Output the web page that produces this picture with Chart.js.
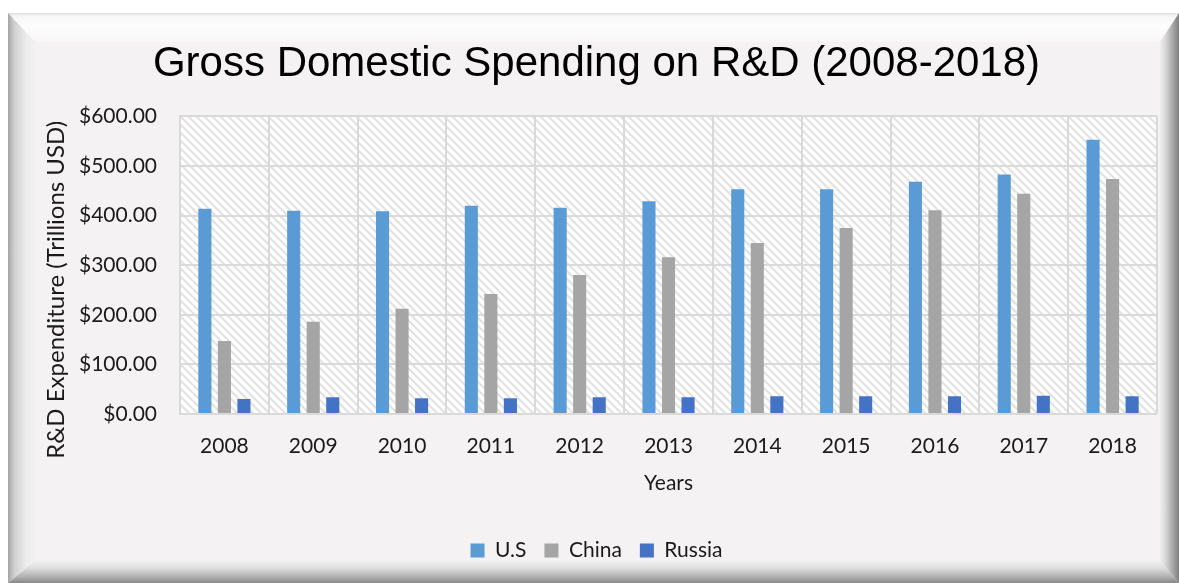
<!DOCTYPE html>
<html lang="en">
<head>
<meta charset="UTF-8">
<title>Gross Domestic Spending on R&amp;D</title>
<style>
    body { margin: 0; background: #fff; width: 1179px; height: 583px; overflow: hidden; position: relative; }
    #frame { position: absolute; left: 8px; top: 13px; width: 1171px; height: 570px; background: #f4f2f3; }
    .bevel { position: absolute; left: 0; top: 0; width: 100%; height: 100%; background-repeat: no-repeat; }
    .b-top {
        background-image: linear-gradient(to bottom, #dcdcdc 0px, #f6f6f6 3px, #fdfdfd 12px, #f7f7f7 29px);
        background-size: 100% 29px;
        clip-path: polygon(0 0, 100% 0, calc(100% - 19px) 29px, 27px 29px);
    }
    .b-left {
        background-image: linear-gradient(to right, #a4a4a4 0px, #cfcfcf 6px, #ececec 18px, #f2f2f2 27px);
        background-size: 27px 100%;
        clip-path: polygon(0 0, 27px 29px, 27px calc(100% - 22px), 0 100%);
    }
    .b-right {
        background-image: linear-gradient(to left, #7e7e7e 0px, #a6a6a6 6px, #dadada 14px, #efefef 19px);
        background-size: 19px 100%; background-position: right top;
        clip-path: polygon(100% 0, 100% 100%, calc(100% - 19px) calc(100% - 22px), calc(100% - 19px) 29px);
    }
    .b-bottom {
        background-image: linear-gradient(to top, #888888 0px, #b0b0b0 6px, #dedede 15px, #efefef 22px);
        background-size: 100% 22px; background-position: left bottom;
        clip-path: polygon(0 100%, 100% 100%, calc(100% - 19px) calc(100% - 22px), 27px calc(100% - 22px));
    }
    canvas { position: absolute; left: 0; top: 0; }
</style>
<script src="https://cdn.jsdelivr.net/npm/chart.js"></script>
</head>
<body>
<div id="frame">
    <div class="bevel b-top"></div>
    <div class="bevel b-left"></div>
    <div class="bevel b-right"></div>
    <div class="bevel b-bottom"></div>
</div>
<canvas id="rdChart" width="1179" height="583"></canvas>

<script>
const years = ["2008", "2009", "2010", "2011", "2012", "2013", "2014", "2015", "2016", "2017", "2018"];
const usSpend     = [414, 410, 409, 420, 416, 429, 453, 453, 468, 483, 553];
const chinaSpend  = [147, 186, 212, 242, 280, 316, 345, 375, 411, 444, 474];
const russiaSpend = [30, 34, 32, 32, 34, 34, 36, 36, 36, 37, 36];

const labelFont = "Lato, 'Open Sans', sans-serif";
const textColor = "#1a1a1a";

function makeHatch() {
    const c = document.createElement("canvas");
    c.width = 8; c.height = 8;
    const g = c.getContext("2d");
    g.fillStyle = "#ffffff";
    g.fillRect(0, 0, 8, 8);
    g.strokeStyle = "#e2e2e2";
    g.lineWidth = 2.2;
    g.beginPath();
    g.moveTo(-2, -2); g.lineTo(10, 10);
    g.moveTo(-6, 2); g.lineTo(2, 10);
    g.moveTo(6, -2); g.lineTo(14, 6);
    g.stroke();
    return g.createPattern(c, "repeat");
}

// plot area gets Excel's light diagonal hatch
const hatchBackground = {
    id: "hatchBackground",
    beforeDraw(chart) {
        const { ctx, chartArea: a } = chart;
        ctx.save();
        ctx.fillStyle = makeHatch();
        ctx.fillRect(a.left, a.top, a.right - a.left, a.bottom - a.top);
        ctx.restore();
    }
};

const ctx = document.getElementById("rdChart").getContext("2d");
new Chart(ctx, {
    type: "bar",
    data: {
        labels: years,
        datasets: [
            { label: "U.S", data: usSpend, backgroundColor: "#5b9bd5" },
            { label: "China", data: chinaSpend, backgroundColor: "#a5a5a5" },
            { label: "Russia", data: russiaSpend, backgroundColor: "#4472c4" }
        ]
    },
    options: {
        responsive: false,
        animation: false,
        devicePixelRatio: 1,
        datasets: { bar: { categoryPercentage: 0.66, barPercentage: 0.67 } },
        layout: { padding: { left: 36, right: 22, top: 0, bottom: 12 } },
        scales: {
            x: {
                grid: { color: "#d9d9d9", lineWidth: 2, drawTicks: false },
                border: { display: false },
                ticks: { color: textColor, font: { family: labelFont, size: 21 }, padding: 20 },
                title: { display: true, text: "Years", color: textColor, font: { family: labelFont, size: 21 }, padding: { bottom: 26 } },
                afterFit(scale) { scale.height = 108; }
            },
            y: {
                min: 0, max: 600,
                grid: { color: "#d9d9d9", lineWidth: 2, drawTicks: false },
                border: { color: "#d9d9d9", width: 2 },
                ticks: {
                    stepSize: 100, color: textColor, padding: 23,
                    font: { family: labelFont, size: 21 },
                    callback: v => "$" + v.toFixed(2)
                },
                title: {
                    display: true,
                    text: "R&D Expenditure (Trillions USD)" + "\u00a0".repeat(8),
                    color: textColor, font: { family: labelFont, size: 24 }, padding: { top: 6 }
                },
                afterFit(scale) { scale.width = 144; }
            }
        },
        plugins: {
            title: {
                display: true,
                text: "Gross Domestic Spending on R&D (2008-2018)",
                color: "#000",
                font: { family: "'Liberation Sans', Arial, sans-serif", size: 42, weight: "normal" },
                padding: { top: 39, bottom: 27 }
            },
            legend: {
                position: "bottom",
                labels: { color: textColor, font: { family: labelFont, size: 21 }, boxWidth: 14, boxHeight: 14, padding: 18 }
            },
            tooltip: { enabled: false }
        }
    },
    plugins: [hatchBackground]
});
</script>
</body>
</html>
